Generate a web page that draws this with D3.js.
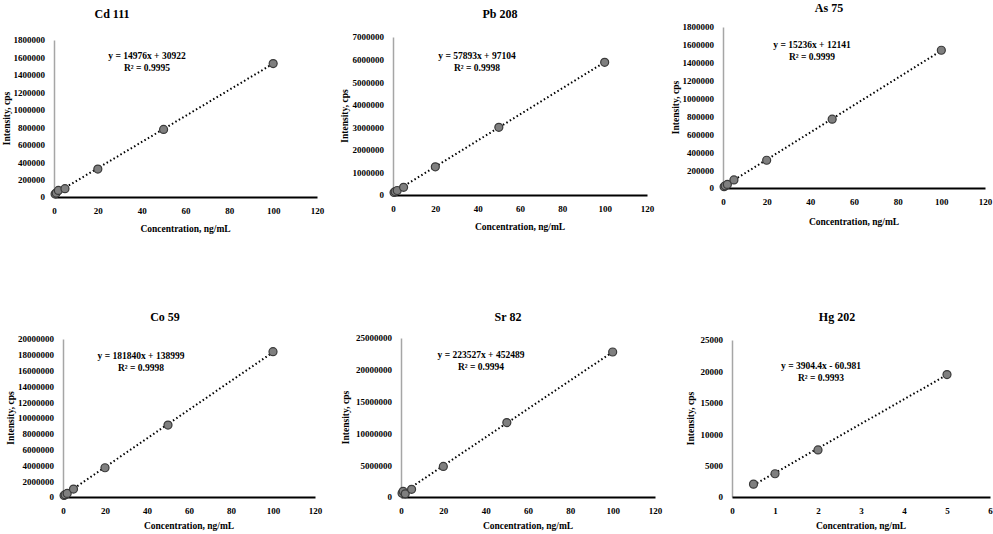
<!DOCTYPE html>
<html>
<head>
<meta charset="utf-8">
<script src="https://cdn.jsdelivr.net/npm/d3@7"></script>
<style>
  html, body { margin: 0; padding: 0; background: #fff; }
  svg { display: block; }
  text { font-family: "Liberation Serif", "Times New Roman", serif; font-weight: bold; fill: #000; }
</style>
</head>
<body>
<svg id="chart" width="993" height="534"></svg>
<script>
// ---------------- DATA ----------------
const panelTitles = ["Cd 111", "Pb 208", "As 75", "Co 59", "Sr 82", "Hg 202"];
const concentrations = [0.5, 1, 2, 5, 20, 50, 100];
const hgConcentrations = [0.5, 1, 2, 5];
const cdValues = [35000, 45000, 75000, 95000, 320000, 775000, 1530000];
const pbValues = [110000, 150000, 200000, 340000, 1250000, 3000000, 5880000];
const asValues = [15000, 25000, 40000, 90000, 310000, 770000, 1540000];
const coValues = [200000, 300000, 450000, 1000000, 3700000, 9100000, 18400000];
const srValues = [600000, 900000, 500000, 1200000, 4800000, 11700000, 22800000];
const hgValues = [2050, 3700, 7500, 19500];
const slopes = [14976, 57893, 15236, 181840, 223527, 3904.4];
const intercepts = [30922, 97104, 12141, 138999, 452489, -60.981];
const equationLabels = ["y = 14976x + 30922", "y = 57893x + 97104", "y = 15236x + 12141",
                        "y = 181840x + 138999", "y = 223527x + 452489", "y = 3904.4x - 60.981"];
const r2Labels = ["R² = 0.9995", "R² = 0.9998", "R² = 0.9999", "R² = 0.9998", "R² = 0.9994", "R² = 0.9993"];
const yMaxes = [1800000, 7000000, 1800000, 20000000, 25000000, 25000];
const yTickSteps = [200000, 1000000, 200000, 2000000, 5000000, 5000];
const xMaxes = [120, 120, 120, 120, 120, 6];
const xTickSteps = [20, 20, 20, 20, 20, 1];
const xAxisTitle = "Concentration, ng/mL";
const yAxisTitle = "Intensity, cps";

const xSets = [concentrations, concentrations, concentrations, concentrations, concentrations, hgConcentrations];
const ySets = [cdValues, pbValues, asValues, coValues, srValues, hgValues];

// ---------------- LAYOUT ----------------
const layouts = [
  {x0: 54, x1: 317, yTop: 40, yBot: 197, title: [112, 15], eq: [147, 57], yTitleX: 8, xTitleY: 230},
  {x0: 393, x1: 647, yTop: 37, yBot: 195, title: [500, 15], eq: [477, 57], yTitleX: 346, xTitleY: 228},
  {x0: 723, x1: 985, yTop: 27, yBot: 188, title: [829, 9], eq: [812, 46], yTitleX: 677, xTitleY: 223},
  {x0: 63, x1: 315, yTop: 339, yBot: 497, title: [165, 318], eq: [141, 357], yTitleX: 12, xTitleY: 527},
  {x0: 401, x1: 655, yTop: 338, yBot: 497, title: [508, 318], eq: [481, 356], yTitleX: 347, xTitleY: 527},
  {x0: 732, x1: 990, yTop: 340, yBot: 497, title: [837, 318], eq: [821, 367], yTitleX: 692, xTitleY: 527}
];

const svg = d3.select("#chart");

panelTitles.forEach((title, i) => {
  const L = layouts[i];
  const g = svg.append("g");
  const x = d3.scaleLinear().domain([0, xMaxes[i]]).range([L.x0, L.x1]);
  const y = d3.scaleLinear().domain([0, yMaxes[i]]).range([L.yBot, L.yTop]);

  const xTicks = d3.range(0, xMaxes[i] + xTickSteps[i] / 2, xTickSteps[i]);
  const yTicks = d3.range(0, yMaxes[i] + yTickSteps[i] / 2, yTickSteps[i]);

  const yAxis = d3.axisLeft(y).tickValues(yTicks).tickSize(0).tickPadding(9).tickFormat(d3.format("d"));
  const ya = g.append("g").attr("transform", `translate(${L.x0},0)`).call(yAxis);
  ya.select(".domain").attr("stroke", "#a6a6a6").attr("stroke-width", 1.5);
  ya.selectAll("text").attr("font-size", 9).attr("font-family", "Liberation Serif").attr("font-weight", "bold").attr("fill", "#000");

  const xAxis = d3.axisBottom(x).tickValues(xTicks).tickSize(0).tickPadding(11).tickFormat(d3.format("d"));
  const xa = g.append("g").attr("transform", `translate(0,${L.yBot})`).call(xAxis);
  xa.select(".domain").attr("stroke", "#000").attr("stroke-width", 2);
  xa.selectAll("text").attr("font-size", 9).attr("font-family", "Liberation Serif").attr("font-weight", "bold").attr("fill", "#000");

  const xs = xSets[i];
  const xa0 = d3.min(xs), xa1 = d3.max(xs);
  g.append("line")
    .attr("x1", x(xa0)).attr("y1", y(slopes[i] * xa0 + intercepts[i]))
    .attr("x2", x(xa1)).attr("y2", y(slopes[i] * xa1 + intercepts[i]))
    .attr("stroke", "#000").attr("stroke-width", 2).attr("stroke-dasharray", "1.5,2.5");

  g.selectAll("circle.pt").data(xs.map((v, k) => [v, ySets[i][k]])).enter()
    .append("circle").attr("class", "pt")
    .attr("cx", d => x(d[0])).attr("cy", d => y(d[1])).attr("r", 4)
    .attr("fill", "#7f7f7f").attr("stroke", "#3a3a3a").attr("stroke-width", 1.2);

  g.append("text").attr("x", L.title[0]).attr("y", L.title[1]).attr("text-anchor", "middle")
    .attr("dominant-baseline", "middle").attr("font-size", 12).text(title);

  g.append("text").attr("x", L.eq[0]).attr("y", L.eq[1]).attr("text-anchor", "middle")
    .attr("dominant-baseline", "middle").attr("font-size", 9.5).text(equationLabels[i]);
  g.append("text").attr("x", L.eq[0]).attr("y", L.eq[1] + 12).attr("text-anchor", "middle")
    .attr("dominant-baseline", "middle").attr("font-size", 9.5).text(r2Labels[i]);

  g.append("text").attr("x", (L.x0 + L.x1) / 2).attr("y", L.xTitleY).attr("text-anchor", "middle")
    .attr("dominant-baseline", "middle").attr("font-size", 9.5).text(xAxisTitle);
  g.append("text").attr("transform", `translate(${L.yTitleX},${(L.yTop + L.yBot) / 2}) rotate(-90)`)
    .attr("text-anchor", "middle").attr("dominant-baseline", "middle").attr("font-size", 9.5).text(yAxisTitle);
});
</script>
</body>
</html>
